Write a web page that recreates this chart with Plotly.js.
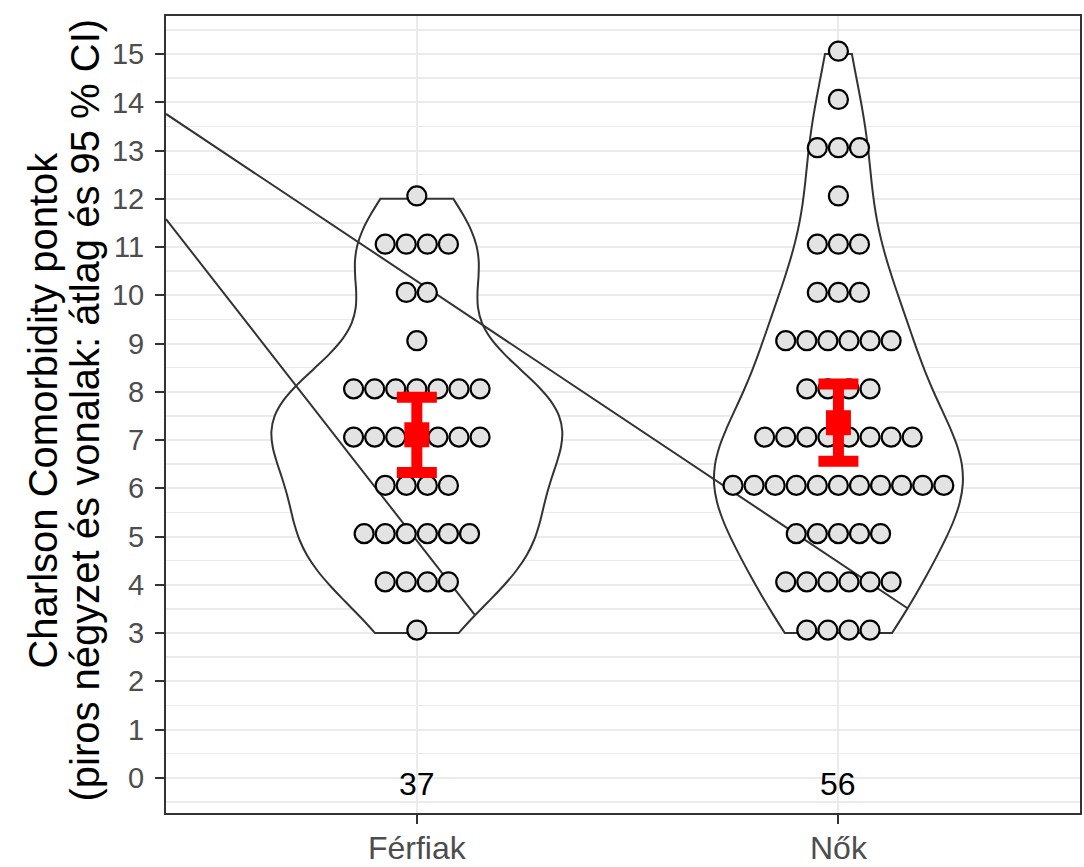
<!DOCTYPE html>
<html>
<head>
<meta charset="utf-8">
<script src="https://cdn.plot.ly/plotly-3.0.1.min.js"></script>
<style>html,body{margin:0;padding:0;background:#fff;}#chart{width:1084px;height:867px;}</style>
</head>
<body>
<div id="chart"></div>
<script>
// Categories and tick labels
const groups = ["Férfiak", "Nők"];
const groupPos = [1, 2];
const sampleSizes = [37, 56];

// Score values and how many patients had each score (read from the dot rows)
const scoreLevels = [3, 4, 5, 6, 7, 8, 9, 10, 11, 12, 13, 14, 15];
const countsFerfiak = [1, 4, 6, 4, 7, 7, 1, 2, 4, 1, 0, 0, 0];
const countsNok     = [4, 6, 5, 11, 8, 4, 6, 3, 3, 1, 3, 1, 1];

// Mean and 95% CI
const means = [7.11, 7.36];
const ciLow = [6.33, 6.56];
const ciHigh = [7.89, 8.16];

// Two diagonal reference lines (endpoints)
const line1X = [0.405, 2.163];
const line1Y = [13.76, 3.52];
const line2X = [0.405, 1.137];
const line2Y = [11.58, 3.38];

// Axis title lines
const yTitleLines = ["Charlson Comorbidity pontok", "(piros négyzet és vonalak: átlag és 95 % CI)"];

// Violin widths (data units) and bandwidths
const violinWidths = [0.69, 0.59];
const bandwidths = [0.98, 1.2];

const countsByGroup = [countsFerfiak, countsNok];
const dotStep = 0.05;
const dotLift = 0.06;
const FONT = 'Liberation Sans, Arial, sans-serif';

function expand(counts) {
  const out = [];
  scoreLevels.forEach((v, i) => { for (let k = 0; k < counts[i]; k++) out.push(v); });
  return out;
}

const traces = [];
// Violins
countsByGroup.forEach((counts, g) => {
  traces.push({
    type: 'violin',
    y: expand(counts),
    x0: groupPos[g],
    width: violinWidths[g],
    bandwidth: bandwidths[g],
    spanmode: 'hard',
    points: false,
    box: {visible: false},
    meanline: {visible: false},
    fillcolor: 'rgba(255,255,255,1)',
    line: {color: '#333333', width: 2},
    hoverinfo: 'skip',
    showlegend: false
  });
});

// Diagonal lines
[[line1X, line1Y], [line2X, line2Y]].forEach(([lx, ly]) => {
  traces.push({
    type: 'scatter', mode: 'lines', x: lx, y: ly,
    line: {color: '#333333', width: 2}, hoverinfo: 'skip', showlegend: false
  });
});

// Dots
countsByGroup.forEach((counts, g) => {
  const xs = [], ys = [];
  scoreLevels.forEach((v, i) => {
    const k = counts[i];
    for (let j = 0; j < k; j++) {
      xs.push(groupPos[g] + (j - (k - 1) / 2) * dotStep);
      ys.push(v + dotLift);
    }
  });
  traces.push({
    type: 'scatter', mode: 'markers', x: xs, y: ys,
    marker: {size: 19, color: '#e3e3e3', line: {color: '#000000', width: 2.2}},
    hoverinfo: 'skip', showlegend: false
  });
});

// Mean and CI
traces.push({
  type: 'scatter', mode: 'markers', x: groupPos, y: means,
  marker: {symbol: 'square', size: 25, color: '#ff0000'},
  error_y: {
    type: 'data', symmetric: false,
    array: means.map((m, i) => ciHigh[i] - m),
    arrayminus: means.map((m, i) => m - ciLow[i]),
    color: '#ff0000', thickness: 11, width: 20
  },
  hoverinfo: 'skip', showlegend: false
});

const annotations = [];
// Sample size labels at y = 0
sampleSizes.forEach((n, i) => {
  annotations.push({
    x: groupPos[i], y: 0, xref: 'x', yref: 'y', text: String(n), showarrow: false,
    font: {family: FONT, size: 32, color: '#000000'}, yshift: -6
  });
});
// Y axis title (two lines)
const titleShift = [-123, -81];
yTitleLines.forEach((t, i) => {
  annotations.push({
    x: 0, y: 0.505, xref: 'paper', yref: 'paper', text: t, showarrow: false,
    textangle: -90, xanchor: 'center', yanchor: 'middle', xshift: titleShift[i],
    font: {family: FONT, size: 40, color: '#000000'}
  });
});

const layout = {
  width: 1084, height: 867,
  margin: {l: 166, r: 4, t: 16, b: 54},
  paper_bgcolor: '#ffffff', plot_bgcolor: '#ffffff',
  font: {family: FONT},
  showlegend: false,
  annotations: annotations,
  xaxis: {
    range: [0.405, 2.573],
    tickvals: groupPos, ticktext: groups,
    showgrid: true, gridcolor: '#ebebeb', gridwidth: 2,
    zeroline: false,
    showline: true, linecolor: '#333333', linewidth: 2, mirror: true,
    ticks: 'outside', ticklen: 9, tickwidth: 2, tickcolor: '#333333',
    ticklabelstandoff: -3,
    tickfont: {size: 32, color: '#4d4d4d'}
  },
  yaxis: {
    range: [-0.73, 15.79],
    tickvals: [0,1,2,3,4,5,6,7,8,9,10,11,12,13,14,15],
    showgrid: true, gridcolor: '#ebebeb', gridwidth: 2,
    minor: {dtick: 0.5, tick0: 0, showgrid: true, gridcolor: '#ebebeb', gridwidth: 1.5, ticks: ''},
    zeroline: false,
    showline: true, linecolor: '#333333', linewidth: 2, mirror: true,
    ticks: 'outside', ticklen: 9, tickwidth: 2, tickcolor: '#333333',
    ticklabelstandoff: 5,
    tickfont: {size: 29, color: '#4d4d4d'}
  }
};

Plotly.newPlot('chart', traces, layout, {displayModeBar: false, staticPlot: true});
</script>
</body>
</html>
